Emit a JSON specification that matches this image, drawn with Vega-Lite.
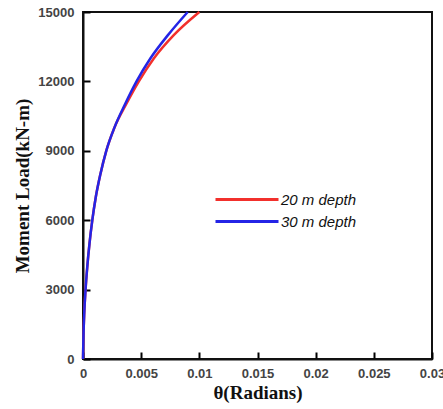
{
  "$schema": "https://vega.github.io/schema/vega-lite/v6.json",
  "width": 349,
  "height": 347,
  "autosize": {"type": "none"},
  "padding": {"left": 83, "top": 12, "right": 11, "bottom": 50},
  "background": "white",
  "data": {
    "values": [
      {"depth": "20 m depth", "theta": 0, "moment": 0},
      {"depth": "20 m depth", "theta": 0.00004, "moment": 1000},
      {"depth": "20 m depth", "theta": 0.00011, "moment": 2000},
      {"depth": "20 m depth", "theta": 0.00022, "moment": 3000},
      {"depth": "20 m depth", "theta": 0.00037, "moment": 4000},
      {"depth": "20 m depth", "theta": 0.00056, "moment": 5000},
      {"depth": "20 m depth", "theta": 0.0008, "moment": 6000},
      {"depth": "20 m depth", "theta": 0.0011, "moment": 7000},
      {"depth": "20 m depth", "theta": 0.0015, "moment": 8000},
      {"depth": "20 m depth", "theta": 0.002, "moment": 9000},
      {"depth": "20 m depth", "theta": 0.0027, "moment": 10000},
      {"depth": "20 m depth", "theta": 0.0037, "moment": 11000},
      {"depth": "20 m depth", "theta": 0.0048, "moment": 12000},
      {"depth": "20 m depth", "theta": 0.0061, "moment": 13000},
      {"depth": "20 m depth", "theta": 0.0078, "moment": 14000},
      {"depth": "20 m depth", "theta": 0.01, "moment": 15000},
      {"depth": "30 m depth", "theta": 0, "moment": 0},
      {"depth": "30 m depth", "theta": 0.00004, "moment": 1000},
      {"depth": "30 m depth", "theta": 0.00011, "moment": 2000},
      {"depth": "30 m depth", "theta": 0.00022, "moment": 3000},
      {"depth": "30 m depth", "theta": 0.00037, "moment": 4000},
      {"depth": "30 m depth", "theta": 0.00056, "moment": 5000},
      {"depth": "30 m depth", "theta": 0.0008, "moment": 6000},
      {"depth": "30 m depth", "theta": 0.0011, "moment": 7000},
      {"depth": "30 m depth", "theta": 0.0015, "moment": 8000},
      {"depth": "30 m depth", "theta": 0.002, "moment": 9000},
      {"depth": "30 m depth", "theta": 0.0027, "moment": 10000},
      {"depth": "30 m depth", "theta": 0.0036, "moment": 11000},
      {"depth": "30 m depth", "theta": 0.0046, "moment": 12000},
      {"depth": "30 m depth", "theta": 0.0058, "moment": 13000},
      {"depth": "30 m depth", "theta": 0.0073, "moment": 14000},
      {"depth": "30 m depth", "theta": 0.009, "moment": 15000}
    ]
  },
  "mark": {"type": "line", "interpolate": "monotone", "strokeWidth": 2.5},
  "encoding": {
    "x": {
      "field": "theta", "type": "quantitative",
      "scale": {"domain": [0, 0.03], "nice": false},
      "axis": {
        "grid": false,
        "title": "θ(Radians)",
        "values": [0, 0.005, 0.01, 0.015, 0.02, 0.025, 0.03],
        "format": "~g",
        "labelFlush": false,
        "tickSize": -7,
        "tickColor": "black",
        "tickWidth": 2,
        "domainColor": "#111",
        "domainWidth": 2,
        "labelPadding": 15,
        "labelFont": "Liberation Sans",
        "labelFontSize": 13,
        "labelFontWeight": "bold",
        "labelColor": "#444",
        "titleFont": "Liberation Serif", "titleFontSize": 19, "titleFontWeight": "bold", "titleColor": "#111",
        "titlePadding": 3
      }
    },
    "y": {
      "field": "moment", "type": "quantitative",
      "scale": {"domain": [0, 15000], "nice": false},
      "axis": {
        "grid": false,
        "title": "Moment Load(kN-m)",
        "values": [0, 3000, 6000, 9000, 12000, 15000],
        "format": "d",
        "tickSize": -7,
        "tickColor": "black",
        "tickWidth": 2,
        "domainColor": "#111",
        "domainWidth": 2,
        "labelPadding": 16,
        "labelFont": "Liberation Sans",
        "labelFontSize": 13,
        "labelFontWeight": "bold",
        "labelColor": "#444",
        "titleFont": "Liberation Serif", "titleFontSize": 19, "titleFontWeight": "bold", "titleColor": "#111",
        "titlePadding": 5
      }
    },
    "color": {
      "field": "depth", "type": "nominal",
      "scale": {"domain": ["20 m depth", "30 m depth"], "range": ["#f2302c", "#2424e6"]},
      "legend": {
        "title": null,
        "orient": "none",
        "legendX": 131,
        "legendY": 180,
        "padding": 0,
        "symbolType": "M-1,0H9.5",
        "symbolSize": 144,
        "symbolStrokeWidth": 3,
        "labelOffset": 52,
        "rowPadding": 6,
        "labelFont": "Liberation Sans",
        "labelFontStyle": "italic",
        "labelFontSize": 15,
        "labelColor": "#111"
      }
    },
    "order": {"field": "moment", "type": "quantitative"}
  },
  "config": {
    "view": {"stroke": "#111", "strokeWidth": 2}
  }
}
